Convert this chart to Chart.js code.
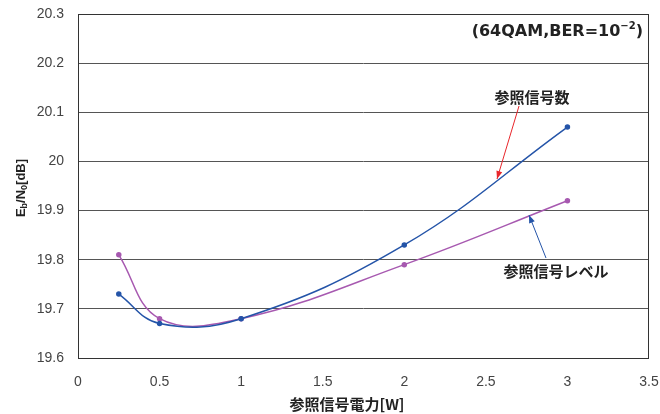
<!DOCTYPE html>
<html>
<head>
<meta charset="utf-8">
<script src="https://cdn.jsdelivr.net/npm/chart.js@4/dist/chart.umd.min.js"></script>
<style>
  html, body { margin: 0; padding: 0; background: #fff; }
  #wrap { width: 660px; height: 414px; }
</style>
</head>
<body>
<div id="wrap"><canvas id="myChart" width="660" height="414"></canvas></div>
<script>
// data
const powerW = [0.25, 0.5, 1, 2, 3];
const refCount = [19.73, 19.67, 19.68, 19.83, 20.07];   // 参照信号数
const refLevel = [19.81, 19.68, 19.68, 19.79, 19.92];   // 参照信号レベル
const xTicks = [0, 0.5, 1, 1.5, 2, 2.5, 3, 3.5];
const yTicks = [19.6, 19.7, 19.8, 19.9, 20, 20.1, 20.2, 20.3];

const FONT = "'Liberation Sans', Arial, sans-serif";
const WIDE = "'DejaVu Sans', sans-serif";
const JP = "'Noto Sans CJK JP', sans-serif";

function toPoints(xs, ys) {
  return xs.map((x, i) => ({ x: x, y: ys[i] }));
}

function arrow(ctx, x1, y1, x2, y2, color) {
  ctx.save();
  ctx.strokeStyle = color;
  ctx.fillStyle = color;
  ctx.lineWidth = 1;
  ctx.beginPath();
  ctx.moveTo(x1, y1);
  ctx.lineTo(x2, y2);
  ctx.stroke();
  const a = Math.atan2(y2 - y1, x2 - x1);
  const len = 8, w = 3;
  ctx.beginPath();
  ctx.moveTo(x2, y2);
  ctx.lineTo(x2 - len * Math.cos(a) + w * Math.sin(a), y2 - len * Math.sin(a) - w * Math.cos(a));
  ctx.lineTo(x2 - len * Math.cos(a) - w * Math.sin(a), y2 - len * Math.sin(a) + w * Math.cos(a));
  ctx.closePath();
  ctx.fill();
  ctx.restore();
}

// draws runs of [text, font, dy] left to right, the whole thing centred or right-aligned
function drawRuns(ctx, runs, x, y, align) {
  let total = 0;
  runs.forEach(r => { ctx.font = r[1]; total += ctx.measureText(r[0]).width; });
  let cx = align === "right" ? x - total : x - total / 2;
  ctx.textAlign = "left";
  ctx.textBaseline = "middle";
  runs.forEach(r => {
    ctx.font = r[1];
    ctx.fillText(r[0], cx, y + r[2]);
    cx += ctx.measureText(r[0]).width;
  });
}

const extras = {
  id: "extras",
  afterDraw(chart) {
    const ctx = chart.ctx;
    const a = chart.chartArea;

    // plot frame
    ctx.save();
    ctx.strokeStyle = "#333";
    ctx.lineWidth = 1;
    ctx.strokeRect(a.left + 0.5, a.top + 0.5, a.right - a.left - 1, a.bottom - a.top);
    ctx.restore();

    // (64QAM,BER=10-2)
    ctx.save();
    ctx.fillStyle = "#222";
    drawRuns(ctx, [
      ["(64QAM,BER=10", "bold 16px " + WIDE, 0],
      ["\u22122", "bold 10px " + WIDE, -6],
      [")", "bold 16px " + WIDE, 0],
    ], 643, 32, "right");
    ctx.restore();

    // labels + arrows
    ctx.save();
    ctx.fillStyle = "#222";
    ctx.font = "bold 15px " + JP;
    ctx.textBaseline = "middle";
    ctx.textAlign = "center";
    ctx.fillText("参照信号数", 532, 97);
    ctx.fillText("参照信号レベル", 556, 271);
    ctx.restore();
    arrow(ctx, 519, 106, 497, 179, "#e8262b");
    arrow(ctx, 546, 258, 529, 215, "#2454a8");

    // x title
    ctx.save();
    ctx.fillStyle = "#222";
    ctx.font = "bold 15px " + JP;
    ctx.textAlign = "center";
    ctx.textBaseline = "middle";
    ctx.fillText("参照信号電力[W]", 347, 404);
    ctx.restore();

    // y title Eb/N0[dB], rotated
    ctx.save();
    ctx.translate(21, 188);
    ctx.rotate(-Math.PI / 2);
    ctx.fillStyle = "#222";
    drawRuns(ctx, [
      ["E", "bold 13px " + FONT, 0],
      ["b", "bold 9px " + FONT, 4],
      ["/N", "bold 13px " + FONT, 0],
      ["0", "bold 9px " + FONT, 4],
      ["[dB]", "bold 13px " + FONT, 0],
    ], 0, 0, "center");
    ctx.restore();
  }
};

const ctx = document.getElementById("myChart").getContext("2d");
new Chart(ctx, {
  type: "line",
  data: {
    datasets: [
      {
        label: "参照信号数",
        data: toPoints(powerW, refCount),
        borderColor: "#2454a8",
        backgroundColor: "#2454a8",
        borderWidth: 1.5,
        pointRadius: 2,
        pointHoverRadius: 2,
        tension: 0.4,
        fill: false,
      },
      {
        label: "参照信号レベル",
        data: toPoints(powerW, refLevel),
        borderColor: "#a759b0",
        backgroundColor: "#a759b0",
        borderWidth: 1.5,
        pointRadius: 2,
        pointHoverRadius: 2,
        tension: 0.4,
        fill: false,
      },
    ],
  },
  options: {
    responsive: false,
    animation: false,
    layout: { padding: { top: 14, right: 11, left: 0, bottom: 0 } },
    plugins: { legend: { display: false }, tooltip: { enabled: false } },
    scales: {
      x: {
        type: "linear",
        min: 0,
        max: 3.5,
        afterBuildTicks: (s) => { s.ticks = xTicks.map(v => ({ value: v })); },
        afterFit: (s) => { s.height = 56; s.paddingLeft = 0; s.paddingRight = 0; },
        grid: { display: false, drawTicks: false },
        border: { display: false },
        ticks: {
          padding: 16,
          color: "#444",
          font: { family: FONT, size: 14 },
          maxRotation: 0,
          callback: (v) => String(v),
        },
      },
      y: {
        type: "linear",
        min: 19.6,
        max: 20.3,
        afterBuildTicks: (s) => { s.ticks = yTicks.map(v => ({ value: v })); },
        afterFit: (s) => { s.width = 78; s.paddingTop = 0; s.paddingBottom = 0; },
        grid: { color: "#555", lineWidth: 1, drawTicks: false },
        border: { display: false },
        ticks: {
          padding: 14,
          color: "#444",
          font: { family: FONT, size: 14 },
          callback: (v) => String(Math.round(v * 10) / 10),
        },
      },
    },
  },
  plugins: [extras],
});
</script>
</body>
</html>
